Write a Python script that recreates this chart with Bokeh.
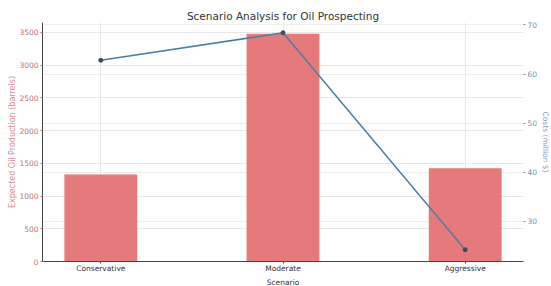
from bokeh.plotting import figure
from bokeh.models import Range1d, LinearAxis, FixedTicker, Grid, ColumnDataSource, Title
from bokeh.embed import file_html
from bokeh.resources import INLINE

categories = ["Conservative", "Moderate", "Aggressive"]
production = [1330, 3480, 1425]
costs = [62.8, 68.4, 24.2]

positions = list(range(len(categories)))
src = ColumnDataSource(dict(x=positions, prod=production, cost=costs))

FONT = "DejaVu Sans"
W, H = 551, 286
p = figure(width=W, height=H, output_backend="svg", toolbar_location=None,
           x_range=Range1d(-0.32, 2.32), y_range=Range1d(0, 3650),
           min_border_left=42, min_border_right=0, min_border_top=22, min_border_bottom=0)
p.title.text = "Scenario Analysis for Oil Prospecting"
p.title.align = "center"
p.title.text_font = FONT
p.title.text_font_size = "10.5px"
p.title.text_font_style = "normal"
p.title.text_color = "#333333"
p.title.standoff = 2
p.outline_line_color = None

p.vbar(x="x", top="prod", width=0.4, source=src, fill_color="#e57373", line_color=None, fill_alpha=0.95)

p.extra_y_ranges = {"cost": Range1d(21.8, 70.5)}
p.line(x="x", y="cost", source=src, y_range_name="cost", line_color="#4a7fa5", line_width=1.5)
p.scatter(x="x", y="cost", source=src, y_range_name="cost", size=4, fill_color="#2f4f63", line_color="#2f4f63")

ax = p.xaxis[0]
ax.ticker = FixedTicker(ticks=positions)
ax.major_label_overrides = {i: c for i, c in enumerate(categories)}
ax.major_label_text_font = FONT
ax.major_label_text_font_size = "7.5px"
ax.major_label_text_color = "#333333"
ax.major_label_standoff = 0
ax.major_tick_out = 2
ax.major_tick_in = 0
ax.minor_tick_line_color = None
ax.axis_line_color = "#444444"
ax.major_tick_line_color = "#444444"

ly = p.yaxis[0]
ly.ticker = FixedTicker(ticks=[0, 500, 1000, 1500, 2000, 2500, 3000, 3500])
ly.major_label_text_font = FONT
ly.major_label_text_font_size = "7.5px"
ly.major_label_text_color = "#b8707a"
ly.major_label_standoff = 2
ly.major_tick_out = 2
ly.major_tick_in = 0
ly.minor_tick_line_color = None
ly.axis_line_color = "#444444"
ly.major_tick_line_color = "#b8707a"

ry = LinearAxis(y_range_name="cost", ticker=FixedTicker(ticks=[30, 40, 50, 60, 70]))
ry.major_label_text_font = FONT
ry.major_label_text_font_size = "7.5px"
ry.major_label_text_color = "#6f93b5"
ry.major_label_standoff = 2
ry.major_tick_out = 2
ry.major_tick_in = 0
ry.minor_tick_line_color = None
ry.axis_line_color = None
ry.major_tick_line_color = "#6f93b5"
p.add_layout(ry, "right")

p.xgrid.grid_line_color = "#e8e8e8"
p.ygrid.grid_line_color = "#e8e8e8"
p.add_layout(Grid(dimension=1, ticker=ry.ticker, y_range_name="cost", grid_line_color="#efefef"))

def side_title(text, color, size):
    return Title(text=text, align="center", text_font=FONT, text_font_size=size,
                 text_font_style="normal", text_color=color, standoff=0, offset=0,
                 text_line_height=0.9)

p.add_layout(side_title("Scenario", "#333333", "7.5px"), "below")
p.add_layout(side_title("Expected Oil Production (barrels)", "#e08890", "8px"), "left")
p.add_layout(side_title("Costs (million $)", "#7fa2c2", "7.5px"), "right")

open("out.html", "w").write(file_html(p, INLINE))
